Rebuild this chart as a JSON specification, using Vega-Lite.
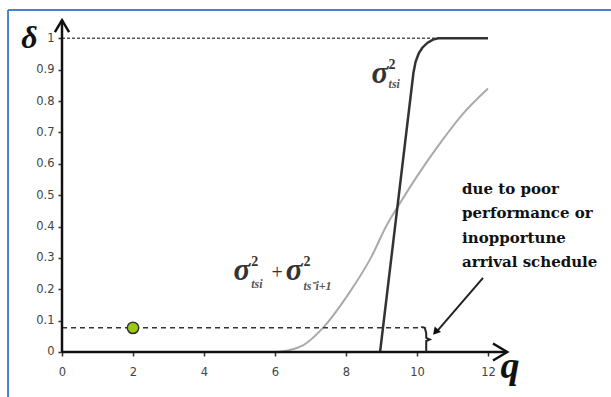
{
  "$schema": "https://vega.github.io/schema/vega-lite/v6.json",
  "width": 611,
  "height": 397,
  "autosize": {"type": "none"},
  "padding": 0,
  "background": "white",
  "config": {"view": {"stroke": null}},
  "datasets": {
    "frame": [
      {"seg": "left", "x": -1.52, "y": 1.0902},
      {"seg": "left", "x": -1.52, "y": -0.1435},
      {"seg": "top", "x": -1.52, "y": 1.0902},
      {"seg": "top", "x": 15.465, "y": 1.0902}
    ],
    "axes": [
      {"seg": "yaxis", "x": 0, "y": 0},
      {"seg": "yaxis", "x": 0, "y": 1.058},
      {"seg": "yarrow", "x": -0.2, "y": 1.02},
      {"seg": "yarrow", "x": 0, "y": 1.058},
      {"seg": "yarrow", "x": 0.2, "y": 1.02},
      {"seg": "xaxis", "x": 0, "y": 0},
      {"seg": "xaxis", "x": 12.54, "y": 0},
      {"seg": "xarrow", "x": 12.14, "y": 0.027},
      {"seg": "xarrow", "x": 12.54, "y": 0},
      {"seg": "xarrow", "x": 12.14, "y": -0.027}
    ],
    "gray": [
      {"x": 6.0, "y": 0},
      {"x": 6.4, "y": 0.006},
      {"x": 6.8, "y": 0.022},
      {"x": 7.35, "y": 0.077},
      {"x": 8.1, "y": 0.19},
      {"x": 8.7, "y": 0.3},
      {"x": 9.15, "y": 0.405},
      {"x": 9.55, "y": 0.48},
      {"x": 10.0, "y": 0.56},
      {"x": 10.55, "y": 0.65},
      {"x": 11.3, "y": 0.76},
      {"x": 12.0, "y": 0.84}
    ],
    "black": [
      {"x": 8.96, "y": 0},
      {"x": 9.9, "y": 0.89},
      {"x": 9.96, "y": 0.925},
      {"x": 10.05, "y": 0.952},
      {"x": 10.15, "y": 0.97},
      {"x": 10.3, "y": 0.986},
      {"x": 10.45, "y": 0.996},
      {"x": 10.6, "y": 1.0},
      {"x": 12.0, "y": 1.0}
    ],
    "dashTop": [
      {"x": 0, "y": 1.0},
      {"x": 10.6, "y": 1.0}
    ],
    "dashLow": [
      {"x": 0, "y": 0.077},
      {"x": 10.15, "y": 0.077}
    ],
    "brace": [
      {"seg": "brace", "x": 10.12, "y": 0.08},
      {"seg": "brace", "x": 10.22, "y": 0.077},
      {"seg": "brace", "x": 10.26, "y": 0.06},
      {"seg": "brace", "x": 10.26, "y": 0.045},
      {"seg": "brace", "x": 10.36, "y": 0.04},
      {"seg": "brace", "x": 10.26, "y": 0.035},
      {"seg": "brace", "x": 10.26, "y": 0.0},
      {"seg": "arrow", "x": 11.86, "y": 0.236},
      {"seg": "arrow", "x": 10.53, "y": 0.062}
    ],
    "arrowHead": [{"x": 10.52, "y": 0.064}],
    "dot": [{"x": 2, "y": 0.077}],
    "delta": [{"x": -0.915, "y": 0.969, "t": "δ"}],
    "qlab": [{"x": 12.62, "y": -0.083, "t": "q"}],
    "sigma": [
      {"x": 8.72, "y": 0.8575, "t": "σ"},
      {"x": 4.83, "y": 0.2295, "t": "σ"},
      {"x": 6.3, "y": 0.2295, "t": "σ"}
    ],
    "sup": [
      {"x": 9.2, "y": 0.902, "t": "2"},
      {"x": 5.33, "y": 0.274, "t": "2"},
      {"x": 6.8, "y": 0.274, "t": "2"}
    ],
    "sub": [
      {"x": 9.2, "y": 0.842, "t": "tsi"},
      {"x": 5.33, "y": 0.204, "t": "tsi"},
      {"x": 6.8, "y": 0.198, "t": "ts⁻i+1"}
    ],
    "plus": [{"x": 5.9, "y": 0.233, "t": "+"}],
    "note": [
      {"x": 11.27, "y": 0.5037, "t": "due to poor"},
      {"x": 11.27, "y": 0.4272, "t": "performance or"},
      {"x": 11.27, "y": 0.3475, "t": "inopportune"},
      {"x": 11.27, "y": 0.271, "t": "arrival schedule"}
    ]
  },
  "encoding": {
    "x": {
      "field": "x",
      "type": "quantitative",
      "scale": {"domain": [-1.7465, 15.465], "nice": false, "zero": false},
      "axis": {
        "values": [0, 2, 4, 6, 8, 10, 12],
        "offset": -45,
        "domain": false,
        "grid": false,
        "title": null,
        "tickSize": 4,
        "tickWidth": 1.5,
        "tickColor": "#333",
        "labelFont": "DejaVu Sans",
        "labelFontSize": 11.5,
        "labelColor": "#444",
        "labelPadding": 10,
        "labelOverlap": false
      }
    },
    "y": {
      "field": "y",
      "type": "quantitative",
      "scale": {"domain": [-0.14345, 1.12209], "nice": false, "zero": false},
      "axis": {
        "values": [0, 0.1, 0.2, 0.3, 0.4, 0.5, 0.6, 0.7, 0.8, 0.9, 1],
        "format": "~g",
        "offset": -62,
        "domain": false,
        "grid": false,
        "title": null,
        "tickSize": 4,
        "tickWidth": 1.5,
        "tickColor": "#333",
        "labelFont": "DejaVu Sans",
        "labelFontSize": 11.5,
        "labelColor": "#444",
        "labelPadding": 4,
        "labelOverlap": false
      }
    }
  },
  "layer": [
    {
      "data": {"name": "frame"},
      "mark": {"type": "line", "color": "#4a7fd4", "strokeWidth": 2},
      "encoding": {"detail": {"field": "seg"}, "order": {"value": null}}
    },
    {
      "data": {"name": "gray"},
      "mark": {"type": "line", "color": "#aaaaaa", "strokeWidth": 2, "interpolate": "monotone"},
      "encoding": {}
    },
    {
      "data": {"name": "dashTop"},
      "mark": {"type": "line", "color": "#555555", "strokeWidth": 1.5, "strokeDash": [3, 2]},
      "encoding": {}
    },
    {
      "data": {"name": "dashLow"},
      "mark": {"type": "line", "color": "#333333", "strokeWidth": 1.5, "strokeDash": [5, 4]},
      "encoding": {}
    },
    {
      "data": {"name": "black"},
      "mark": {"type": "line", "color": "#333333", "strokeWidth": 2.5},
      "encoding": {}
    },
    {
      "data": {"name": "axes"},
      "mark": {"type": "line", "color": "#111111", "strokeWidth": 2.5},
      "encoding": {"detail": {"field": "seg"}, "order": {"value": null}}
    },
    {
      "data": {"name": "brace"},
      "mark": {"type": "line", "color": "#222222", "strokeWidth": 2},
      "encoding": {"detail": {"field": "seg"}, "order": {"value": null}}
    },
    {
      "data": {"name": "arrowHead"},
      "mark": {"type": "point", "shape": "triangle-up", "filled": true, "color": "#111111", "size": 70, "angle": 221, "opacity": 1},
      "encoding": {}
    },
    {
      "data": {"name": "dot"},
      "mark": {"type": "point", "shape": "circle", "filled": true, "fill": "#99cc11", "stroke": "#333333", "strokeWidth": 1.5, "size": 130, "opacity": 1},
      "encoding": {}
    },
    {
      "data": {"name": "delta"},
      "mark": {"type": "text", "font": "Liberation Serif", "fontStyle": "italic", "fontWeight": "bold", "fontSize": 32, "color": "#111", "align": "center", "baseline": "alphabetic"},
      "encoding": {"text": {"field": "t"}}
    },
    {
      "data": {"name": "qlab"},
      "mark": {"type": "text", "font": "Liberation Serif", "fontStyle": "italic", "fontWeight": "bold", "fontSize": 38, "color": "#111", "align": "center", "baseline": "alphabetic"},
      "encoding": {"text": {"field": "t"}}
    },
    {
      "data": {"name": "sigma"},
      "mark": {"type": "text", "font": "Liberation Serif", "fontStyle": "italic", "fontWeight": "bold", "fontSize": 31, "color": "#333", "align": "left", "baseline": "alphabetic"},
      "encoding": {"text": {"field": "t"}}
    },
    {
      "data": {"name": "sup"},
      "mark": {"type": "text", "font": "Liberation Serif", "fontWeight": "bold", "fontSize": 14, "color": "#333", "align": "left", "baseline": "alphabetic"},
      "encoding": {"text": {"field": "t"}}
    },
    {
      "data": {"name": "sub"},
      "mark": {"type": "text", "font": "Liberation Serif", "fontStyle": "italic", "fontWeight": "bold", "fontSize": 12, "color": "#555", "align": "left", "baseline": "alphabetic"},
      "encoding": {"text": {"field": "t"}}
    },
    {
      "data": {"name": "plus"},
      "mark": {"type": "text", "font": "Liberation Serif", "fontSize": 20, "color": "#333", "align": "left", "baseline": "alphabetic"},
      "encoding": {"text": {"field": "t"}}
    },
    {
      "data": {"name": "note"},
      "mark": {"type": "text", "font": "DejaVu Serif", "fontWeight": "bold", "fontSize": 15, "color": "#111", "align": "left", "baseline": "alphabetic"},
      "encoding": {"text": {"field": "t"}}
    }
  ]
}
